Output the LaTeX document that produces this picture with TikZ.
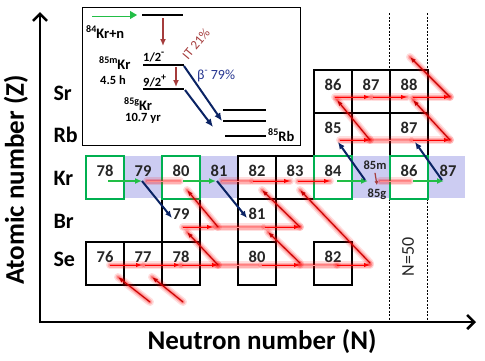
\documentclass[tikz,border=0pt]{standalone}
\usepackage{fontspec}
\setmainfont{Carlito}
\usetikzlibrary{arrows.meta}
\definecolor{kgreen}{RGB}{0,176,80}
\definecolor{agreen}{RGB}{34,190,70}
\definecolor{bandc}{RGB}{204,204,242}
\definecolor{navyc}{RGB}{10,35,100}
\definecolor{itbrown}{RGB}{165,60,60}
\definecolor{betab}{RGB}{40,55,145}
\definecolor{dred}{RGB}{200,0,0}
\tikzset{
  bx/.style={draw=black, fill=white, line width=1.4pt},
  gbx/.style={draw=kgreen, fill=white, line width=1.6pt},
  num/.style={font=\bfseries\fontsize{16.5}{16.5}\selectfont, text=black!85},
  elab/.style={font=\bfseries\fontsize{22}{22}\selectfont, anchor=west},
  glowA/.style={line width=8pt, red, opacity=0.13, line cap=round},
  glowB/.style={line width=5pt, red, opacity=0.2, line cap=round},
  glowC/.style={line width=2.6pt, red, opacity=0.28, line cap=round},
  rarr/.style={draw=red, line width=1pt, -{Latex[length=6pt,width=4.5pt]}},
  darr/.style={draw=dred, line width=1.1pt, -{Latex[length=6pt,width=4.5pt]}},
  farr/.style={draw=red!45, line width=0.8pt},
  garr/.style={draw=agreen, line width=1.8pt, -{Latex[length=7pt,width=6pt]}},
  narr/.style={draw=navyc, line width=2pt, -{Latex[length=7pt,width=6pt]}},
  lvl/.style={line width=1.8pt},
  axis/.style={line width=2.6pt, -{Straight Barb[length=7pt,width=14pt]}},
  nline/.style={line width=0.7pt, dash pattern=on 2pt off 1.5pt},
}
\newcommand\glowline[3]{%
  \draw[glowA] #2 -- #3; \draw[glowB] #2 -- #3; \draw[glowC] #2 -- #3;
  \draw[#1] #2 -- #3;}
\newcommand\supx[1]{\raisebox{0.45em}{\fontsize{10}{10}\selectfont #1}}
\begin{document}
\begin{tikzpicture}[x=1pt,y=-1pt]
\useasboundingbox (0,0) rectangle (485,360);
% axes
\draw[axis] (40,323) -- (40,12);
\draw[axis] (39,322) -- (476,322);
\node[font=\bfseries\fontsize{27}{27}\selectfont, rotate=90] (ytitle) at (16,180) {Atomic number (Z)};
\node[font=\bfseries\fontsize{27}{27}\selectfont] (xtitle) at (262,342) {Neutron number (N)};
% element labels
\node[elab] (lSr) at (50,93) {Sr};
\node[elab] (lRb) at (50,135) {Rb};
\node[elab] (lKr) at (50,178) {Kr};
\node[elab] (lBr) at (50,221) {Br};
\node[elab] (lSe) at (50,259) {Se};
% band
\fill[bandc] (124,156) rectangle (465,198);
% N=50 dashed lines
\draw[nline] (389,13) -- (389,322);
\draw[nline] (427,13) -- (427,322);
\node[font=\fontsize{18}{18}\selectfont, rotate=90, text=black!85] (n50) at (408,257) {N=50};
% boxes
\draw[bx] (314,70) rectangle (352,113);
\draw[bx] (352,70) rectangle (390,113);
\draw[bx] (390,70) rectangle (428,113);
\draw[bx] (314,113) rectangle (352,156);
\draw[bx] (390,113) rectangle (428,156);
\draw[bx] (238,156) rectangle (276,199);
\draw[bx] (276,156) rectangle (314,199);
\draw[bx] (162,199) rectangle (200,242);
\draw[bx] (238,199) rectangle (276,242);
\draw[bx] (86,242) rectangle (124,285);
\draw[bx] (124,242) rectangle (162,285);
\draw[bx] (162,242) rectangle (200,285);
\draw[bx] (238,242) rectangle (276,285);
\draw[bx] (314,242) rectangle (352,285);
\draw[gbx] (86,156) rectangle (124,199);
\draw[gbx] (162,156) rectangle (200,199);
\draw[gbx] (314,156) rectangle (352,199);
\draw[gbx] (390,156) rectangle (428,199);
% numbers
\node[num] at (333,85) {86};
\node[num] at (371,85) {87};
\node[num] at (409,85) {88};
\node[num] at (333,128) {85};
\node[num] at (409,128) {87};
\node[num] at (105,171) {78};
\node[num] at (143,171) {79};
\node[num] at (181,171) {80};
\node[num] at (219,171) {81};
\node[num] at (257,171) {82};
\node[num] at (295,171) {83};
\node[num] at (333,171) {84};
\node[num] at (409,171) {86};
\node[num] at (448,171) {87};
\node[num] at (181,214) {79};
\node[num] at (257,214) {81};
\node[num] at (105,257) {76};
\node[num] at (143,257) {77};
\node[num] at (181,257) {78};
\node[num] at (257,257) {80};
\node[num] at (333,257) {82};
\node[font=\bfseries\fontsize{12.5}{12.5}\selectfont, text=black!85] (k85m) at (375,165) {85m};
\node[font=\bfseries\fontsize{12.5}{12.5}\selectfont, text=black!85] (k85g) at (377,194) {85g};
% faint red segments
\glowline{farr}{(147,181)}{(180,181)}
\glowline{farr}{(222,181)}{(250,181)}
\glowline{farr}{(380,181)}{(410,181)}
\glowline{farr}{(217,227)}{(262,227)}
\glowline{farr}{(218,265)}{(258,265)}
\glowline{farr}{(300,265)}{(337,265)}
\glowline{farr}{(370,140)}{(410,140)}
% red horizontal arrows
\glowline{rarr}{(110,265)}{(142,265)}
\glowline{rarr}{(145,265)}{(180,265)}
\glowline{rarr}{(182,265)}{(218,265)}
\glowline{rarr}{(262,265)}{(300,265)}
\glowline{rarr}{(337,265)}{(370,265)}
\glowline{rarr}{(183,227)}{(213,227)}
\glowline{rarr}{(265,227)}{(300,227)}
\glowline{rarr}{(253,181)}{(290,181)}
\glowline{rarr}{(298,181)}{(330,181)}
\glowline{rarr}{(340,140)}{(370,140)}
\glowline{rarr}{(413,140)}{(450,140)}
\glowline{rarr}{(335,97)}{(370,97)}
\glowline{rarr}{(373,97)}{(407,97)}
\glowline{rarr}{(413,97)}{(450,97)}
% red diagonal arrows
\glowline{darr}{(150,302)}{(118,277)}
\glowline{darr}{(183,302)}{(152,277)}
\glowline{darr}{(218,265)}{(187,232)}
\glowline{darr}{(218,227)}{(187,190)}
\glowline{darr}{(300,263)}{(268,232)}
\glowline{darr}{(300,227)}{(262,190)}
\glowline{darr}{(370,263)}{(300,190)}
\glowline{darr}{(370,140)}{(337,100)}
\glowline{darr}{(450,140)}{(413,100)}
\glowline{darr}{(450,97)}{(410,57)}
% green capture arrows
\draw[garr] (108,181) -- (142,181);
\draw[garr] (183,181) -- (216,181);
\draw[garr] (337,181) -- (368,181);
\draw[garr] (413,181) -- (444,181);
% navy decay arrows
\draw[narr] (142,181) -- (172,218);
\draw[narr] (217,181) -- (247,218);
\draw[narr] (365,180) -- (338,142);
\draw[narr] (442,180) -- (415,142);
% isomeric transition
\draw[draw=itbrown, line width=1.2pt, -{Latex[length=4pt,width=4pt]}] (k85m.south) -- (k85g.north);
% inset
\draw[line width=1pt, fill=white] (82,7) rectangle (300,145);
\draw[agreen, line width=0.8pt, double=white, double distance=1.4pt, -{Triangle[length=7pt,width=8pt]}] (92,15) -- (137,15);
\draw[lvl] (142,15) -- (183,15);
\draw[lvl] (143,65) -- (184,65);
\draw[lvl] (143,89) -- (184,89);
\draw[lvl] (223,110) -- (266,110);
\draw[lvl] (223,121) -- (266,121);
\draw[lvl] (225,136) -- (266,136);
\draw[draw=itbrown, line width=1.6pt, -{Latex[length=7pt,width=6pt]}] (163,18) -- (163,46);
\draw[draw=itbrown, line width=1.6pt, -{Latex[length=7pt,width=6pt]}] (176,67) -- (176,87);
\draw[draw=navyc, line width=2pt, -{Latex[length=8pt,width=7pt]}] (184,66) -- (222,121);
\draw[draw=navyc, line width=2pt, -{Latex[length=8pt,width=7pt]}] (185,90) -- (213,127);
\node[anchor=west, font=\bfseries\fontsize{14.5}{14.5}\selectfont, inner sep=0pt] at (86,32) {\supx{84}Kr+n};
\node[anchor=west, font=\bfseries\fontsize{14.5}{14.5}\selectfont, inner sep=0pt] at (99,63) {\supx{85m}Kr};
\node[anchor=west, font=\bfseries\fontsize{12.5}{12.5}\selectfont, inner sep=0pt] at (100,80) {4.5 h};
\node[anchor=west, font=\bfseries\fontsize{14.5}{14.5}\selectfont, inner sep=0pt] at (124,104) {\supx{85g}Kr};
\node[anchor=west, font=\bfseries\fontsize{12.5}{12.5}\selectfont, inner sep=0pt] at (125,118) {10.7 yr};
\node[anchor=west, font=\bfseries\fontsize{12.5}{12.5}\selectfont, inner sep=0pt] at (143,57) {1/2\supx{-}};
\node[anchor=west, font=\bfseries\fontsize{12.5}{12.5}\selectfont, inner sep=0pt] at (143,81) {9/2\supx{+}};
\node[font=\fontsize{13}{13}\selectfont, text=itbrown, rotate=50, inner sep=0pt] at (196,44) {IT 21\%};
\node[anchor=west, font=\fontsize{14}{14}\selectfont, text=betab, inner sep=0pt] at (197,76) {β\supx{-} 79\%};
\node[anchor=west, font=\bfseries\fontsize{14.5}{14.5}\selectfont, inner sep=0pt] at (268,135) {\supx{85}Rb};
\end{tikzpicture}
\end{document}
